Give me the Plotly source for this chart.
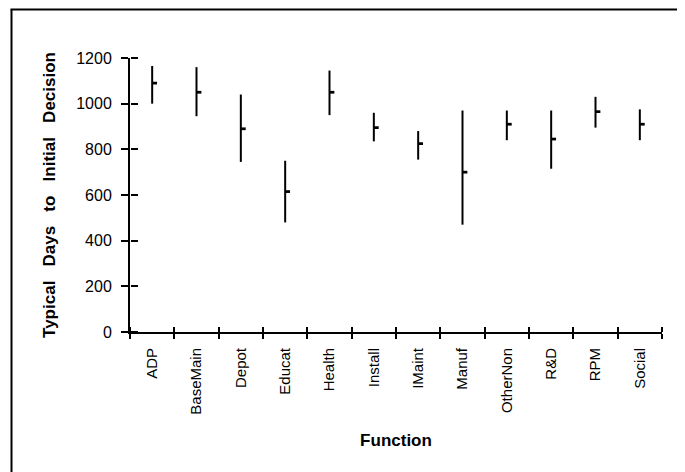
import plotly.graph_objects as go

categories = ["ADP", "BaseMain", "Depot", "Educat", "Health", "Install",
              "IMaint", "Manuf", "OtherNon", "R&D", "RPM", "Social"]
range_high = [1165, 1160, 1040, 750, 1145, 960, 880, 970, 970, 970, 1030, 975]
range_low = [1000, 945, 745, 480, 950, 835, 755, 470, 840, 715, 895, 840]
typical = [1090, 1050, 890, 615, 1050, 895, 825, 700, 910, 845, 965, 910]
y_ticks = [0, 200, 400, 600, 800, 1000, 1200]

FONT = "Liberation Sans, Arial, Helvetica, sans-serif"
OFF = 8  # page body margin
W, H = 685 - OFF, 472 - OFF
L, R, T, B = 130 - OFF, 23, 58 - OFF, 140

# vertical range lines
lx, ly = [], []
for c, lo, hi in zip(categories, range_low, range_high):
    lx += [c, c, None]
    ly += [lo, hi, None]

fig = go.Figure()
fig.add_trace(go.Scatter(x=lx, y=ly, mode="lines",
                         line=dict(color="black", width=2),
                         showlegend=False, hoverinfo="skip"))
# small nub to the right of each line at the typical value
nub_h = 12
fig.add_trace(go.Bar(x=categories, y=[nub_h] * len(categories),
                     base=[v - nub_h / 2 for v in typical],
                     width=0.11, offset=0.0,
                     marker=dict(color="black", line=dict(width=0)),
                     showlegend=False, hoverinfo="skip"))
# dummy traces for the extra axes (ticks on the other side of the axis lines)
fig.add_trace(go.Scatter(x=[None], y=[None], xaxis="x2", yaxis="y",
                         showlegend=False, hoverinfo="skip"))
fig.add_trace(go.Scatter(x=[None], y=[None], xaxis="x", yaxis="y2",
                         showlegend=False, hoverinfo="skip"))

n = len(categories)
boundaries = [i - 0.5 for i in range(n + 1)]

gap = " &nbsp;&nbsp;"
ytitle = "<b>" + gap.join(["Typical", "Days", "to", "Initial", "Decision"]) + "</b>"

fig.update_layout(
    width=W, height=H,
    margin=dict(l=L, r=R, t=T, b=B, autoexpand=False),
    paper_bgcolor="white", plot_bgcolor="white",
    font=dict(family=FONT, color="black"),
    showlegend=False,
    xaxis=dict(
        type="category", categoryorder="array", categoryarray=categories,
        range=[-0.5, n - 0.5],
        showline=True, linecolor="black", linewidth=2,
        showgrid=False, zeroline=False,
        ticks="outside", tickson="boundaries", ticklen=5, tickwidth=1.5,
        tickcolor="black",
        tickangle=-90, tickfont=dict(size=15, family=FONT),
        ticklabelstandoff=8,
        title=dict(text="<b>Function</b>", font=dict(size=17, family=FONT),
                   standoff=20),
        automargin=False, fixedrange=True,
    ),
    yaxis=dict(
        range=[0, 1200],
        tickvals=y_ticks,
        showline=True, linecolor="black", linewidth=2,
        showgrid=False, zeroline=False,
        ticks="outside", ticklen=7, tickwidth=1.5, tickcolor="black",
        tickfont=dict(size=16, family=FONT),
        ticklabelstandoff=6,
        title=dict(text=ytitle, font=dict(size=17, family=FONT), standoff=16),
        automargin=False, fixedrange=True,
    ),
    xaxis2=dict(
        overlaying="x", anchor="free", position=0, side="top",
        range=[-0.5, n - 0.5],
        tickvals=boundaries, ticks="outside", ticklen=5, tickwidth=1.5,
        tickcolor="black", showticklabels=False, showgrid=False,
        zeroline=False, showline=False, fixedrange=True,
    ),
    yaxis2=dict(
        overlaying="y", anchor="free", position=0, side="right",
        range=[0, 1200],
        tickvals=y_ticks, ticks="outside", ticklen=7, tickwidth=1.5,
        tickcolor="black", showticklabels=False, showgrid=False,
        zeroline=False, showline=False, fixedrange=True,
    ),
)

# outer frame (left and top edges visible in the reference)
pw, ph = W - L - R, H - T - B
def px_to_paper_x(px):
    return (px - OFF - L) / pw
def px_to_paper_y(py):
    return (H - B - (py - OFF)) / ph

fig.add_shape(type="line", xref="paper", yref="paper",
              x0=px_to_paper_x(11.5), x1=px_to_paper_x(11.5),
              y0=px_to_paper_y(9.5), y1=px_to_paper_y(472 + 5),
              line=dict(color="black", width=2))
fig.add_shape(type="line", xref="paper", yref="paper",
              x0=px_to_paper_x(10.5), x1=px_to_paper_x(685 + 5),
              y0=px_to_paper_y(9.5), y1=px_to_paper_y(9.5),
              line=dict(color="black", width=2))

fig.write_html("out.html", config=dict(displayModeBar=False))
